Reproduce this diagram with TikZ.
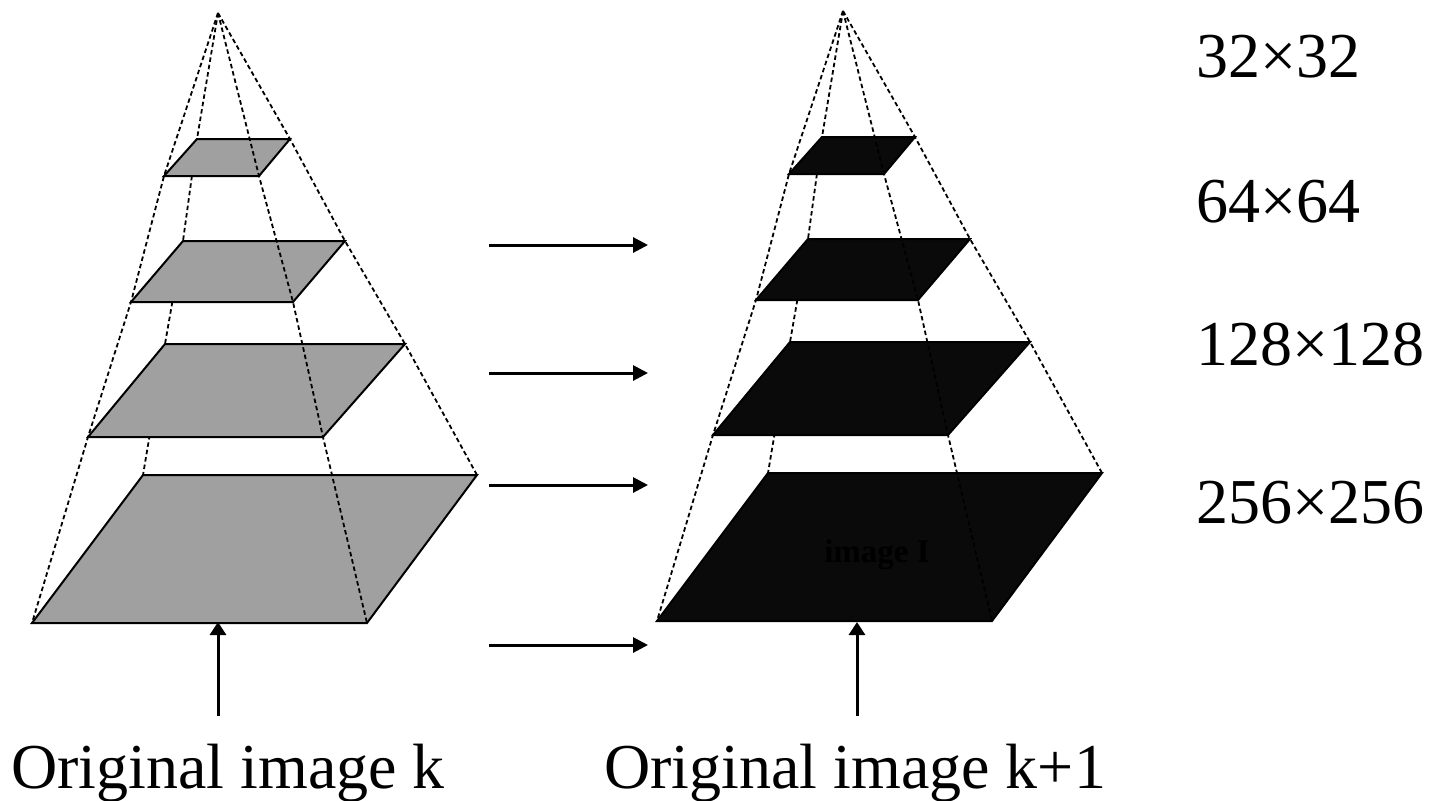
\documentclass[tikz,border=0pt]{standalone}
\usepackage{fontspec}
\setmainfont{Liberation Serif}
\usetikzlibrary{arrows.meta}
\definecolor{planegray}{RGB}{160,160,160}
\definecolor{planedark}{RGB}{10,10,10}

\begin{document}
\begin{tikzpicture}[x=1pt,y=-1pt,
  guide/.style={line width=1.8pt, dash pattern=on 4.5pt off 3pt, line join=round},
  plane/.style={draw=black, line width=2pt, line join=miter},
  flow/.style={line width=3pt, -{Triangle[length=15pt,width=15pt]}},
  upflow/.style={line width=3pt, -{Triangle[length=13pt,width=16pt]}},
  size/.style={anchor=base west, inner sep=0pt, font=\fontsize{64}{76}\selectfont},
  caption/.style={anchor=base west, inner sep=0pt, font=\fontsize{64}{76}\selectfont}]

\useasboundingbox (0,0) rectangle (1444,801);

% two image pyramids: grey levels of image k, dark levels of image k+1
\foreach \p/\dx/\dy/\fillc in {L/0/0/planegray, R/625/-2/planedark} {
  \begin{scope}[shift={(\dx,\dy)}]
    \coordinate (\p-apex) at (218,13);
    % level 1 (32x32)
    \coordinate (\p-1bl) at (164,176); \coordinate (\p-1br) at (259,176);
    \coordinate (\p-1tr) at (290,139); \coordinate (\p-1tl) at (197,139);
    % level 2 (64x64)
    \coordinate (\p-2bl) at (131,302); \coordinate (\p-2br) at (293,302);
    \coordinate (\p-2tr) at (345,241); \coordinate (\p-2tl) at (183,241);
    % level 3 (128x128)
    \coordinate (\p-3bl) at (88,437);  \coordinate (\p-3br) at (323,437);
    \coordinate (\p-3tr) at (405,344); \coordinate (\p-3tl) at (165,344);
    % level 4 (256x256)
    \coordinate (\p-4bl) at (32,623);  \coordinate (\p-4br) at (367,623);
    \coordinate (\p-4tr) at (477,475); \coordinate (\p-4tl) at (143,475);
  \end{scope}
  % edges that run behind the levels
  \draw[guide] (\p-apex) -- (\p-1tl) -- (\p-2tl) -- (\p-3tl) -- (\p-4tl);
  \draw[guide] (\p-apex) -- (\p-1bl) -- (\p-2bl) -- (\p-3bl) -- (\p-4bl);
  \draw[guide] (\p-apex) -- (\p-1tr) -- (\p-2tr) -- (\p-3tr) -- (\p-4tr);
  % the levels
  \foreach \k in {1,2,3,4} {
    \filldraw[plane, fill=\fillc] (\p-\k bl) -- (\p-\k br) -- (\p-\k tr) -- (\p-\k tl) -- cycle;
  }
  % front edge drawn over the levels
  \draw[guide] (\p-apex) -- (\p-1br) -- (\p-2br) -- (\p-3br) -- (\p-4br);
}

\node[font=\bfseries\fontsize{33}{36}\selectfont, text=black, inner sep=0pt] (imgI) at (877,555) {image I};

% level-to-level arrows
\foreach \y [count=\i] in {245,373,485,645} {
  \coordinate (h\i-s) at (489,\y);
  \coordinate (h\i-e) at (648,\y);
  \draw[flow] (h\i-s) -- (h\i-e);
}

% inputs
\coordinate (L-src) at (218,716); \coordinate (L-in) at (218,622);
\coordinate (R-src) at (857,716); \coordinate (R-in) at (857,622);
\draw[upflow] (L-src) -- (L-in);
\draw[upflow] (R-src) -- (R-in);

\node[caption] (capL) at (11,788) {Original image k};
\node[caption] (capR) at (604,788) {Original image k+1};

% resolution of each level
\node[size] (s32)  at (1196,77)  {32×32};
\node[size] (s64)  at (1196,222) {64×64};
\node[size] (s128) at (1196,365) {128×128};
\node[size] (s256) at (1196,523) {256×256};
\end{tikzpicture}
\end{document}
